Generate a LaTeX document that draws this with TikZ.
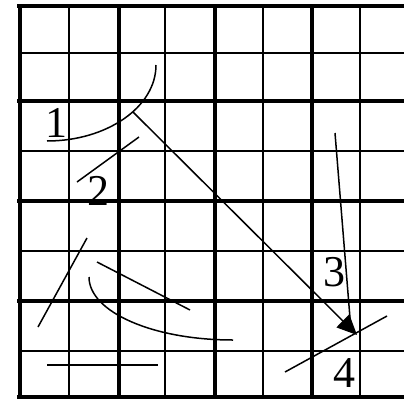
\documentclass[tikz,border=0pt]{standalone}
\usepackage{fontspec}
\setmainfont{Liberation Serif}
\usetikzlibrary{arrows.meta}
\begin{document}
\begin{tikzpicture}[x=1pt,y=-1pt,
  thingrid/.style={line width=1.7pt},
  thickgrid/.style={line width=4.6pt},
  stroke/.style={line width=1.5pt,line cap=butt},
  lbl/.style={font=\fontsize{44}{44}\selectfont,inner sep=0pt}]
\useasboundingbox (0,0) rectangle (404,399);
\fill[white] (0,0) rectangle (404,399);
\begin{scope}
\clip (0,0) rectangle (404,399);
% thin grid lines
\foreach \x in {69,165,263,360} \draw[thingrid] (\x,6) -- (\x,399);
\foreach \y in {53,151,251,351} \draw[thingrid] (20,\y) -- (410,\y);
% thick grid lines
\foreach \x in {20,119,215,312} \draw[thickgrid] (\x,4) -- (\x,399);
\foreach \y in {6,101,201,301,397} \draw[thickgrid] (17,\y) -- (410,\y);
\end{scope}
% labels
\node[lbl] (l1) at (56,123) {1};
\node[lbl] (l2) at (98,191) {2};
\node[lbl] (l3) at (334,272) {3};
\node[lbl] (l4) at (344,373) {4};
% shapes
\coordinate (a1s) at (47,141);
\coordinate (a1e) at (156,65);
\draw[stroke] (a1s) .. controls (107,141) and (156,107) .. (a1e);
\coordinate (s2a) at (77,182);
\coordinate (s2b) at (139,137);
\draw[stroke] (s2a) -- (s2b);
\coordinate (arS) at (133,112);
\coordinate (arE) at (357,335);
\draw[stroke,-{Triangle[length=20pt,width=18pt]}] (arS) -- (arE);
\coordinate (s3a) at (335,133);
\coordinate (s3b) at (350,318);
\draw[stroke] (s3a) -- (s3b);
\coordinate (s4a) at (285,372);
\coordinate (s4b) at (387,316);
\draw[stroke] (s4a) -- (s4b);
\coordinate (s5a) at (38,327);
\coordinate (s5b) at (87,238);
\draw[stroke] (s5a) -- (s5b);
\coordinate (s6a) at (97,262);
\coordinate (s6b) at (190,310);
\draw[stroke] (s6a) -- (s6b);
\coordinate (a2s) at (89,277);
\coordinate (a2e) at (233,340);
\draw[stroke] (a2s) .. controls (89,312) and (153,340) .. (a2e);
\coordinate (s7a) at (47,365);
\coordinate (s7b) at (158,365);
\draw[stroke] (s7a) -- (s7b);
\end{tikzpicture}
\end{document}
